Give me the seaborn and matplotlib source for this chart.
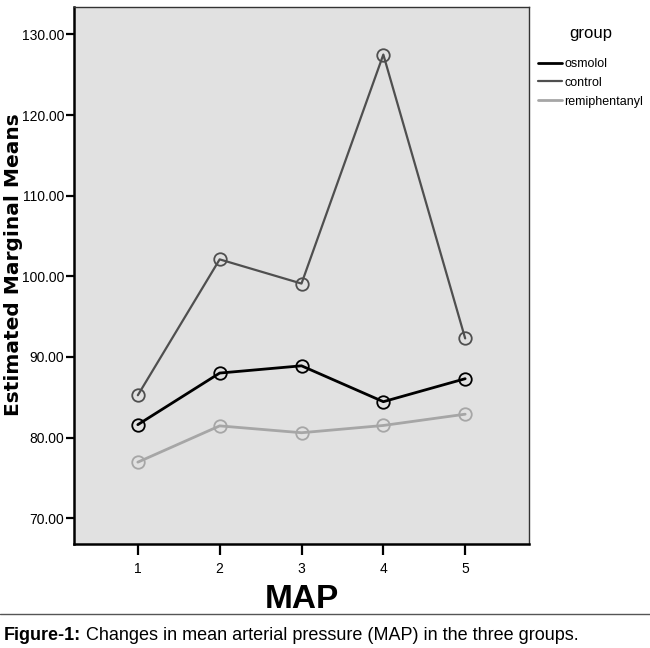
import pandas as pd
import numpy as np
import matplotlib
matplotlib.use("Agg")
import matplotlib.pyplot as plt
from matplotlib.lines import Line2D
import seaborn as sns

# 값은 그림에서 읽은 추정치
map_time = [1, 2, 3, 4, 5]
osmolol = [81.6, 88.0, 88.9, 84.45, 87.3]
control = [85.25, 102.1, 99.1, 127.5, 92.3]
remiphentanyl = [76.95, 81.45, 80.6, 81.5, 82.9]
groups = ["osmolol", "control", "remiphentanyl"]
colors = {"osmolol": "#000000", "control": "#4f4f4f", "remiphentanyl": "#a6a6a6"}
widths = {"osmolol": 2.0, "control": 1.6, "remiphentanyl": 2.0}
yticks = [70, 80, 90, 100, 110, 120, 130]

df = pd.DataFrame({
    "MAP": map_time * 3,
    "value": osmolol + control + remiphentanyl,
    "group": np.repeat(groups, len(map_time)),
})

sns.set_style("ticks")
plt.rcParams["font.family"] = ["Liberation Sans", "DejaVu Sans"]
for k in ["text.color", "axes.labelcolor", "xtick.color", "ytick.color"]:
    plt.rcParams[k] = "black"

fig = plt.figure(figsize=(6.5, 6.48), dpi=100)
ax = fig.add_axes([74 / 650, 1 - 544 / 648, 455 / 650, 537 / 648])
ax.set_facecolor("#e1e1e1")

for g in groups:
    sub = df[df["group"] == g]
    sns.lineplot(data=sub, x="MAP", y="value", ax=ax, color=colors[g],
                 linewidth=widths[g], marker="o", markersize=9,
                 markerfacecolor="none", markeredgecolor=colors[g],
                 markeredgewidth=1.3, legend=False)

ax.set_xlim(0.22, 5.78)
ax.set_ylim(66.8, 133.4)
ax.set_xticks(map_time)
ax.set_yticks(yticks)
ax.set_yticklabels([f"{v:.2f}" for v in yticks])
ax.tick_params(axis="both", labelsize=10, width=1.6, direction="out")
ax.tick_params(axis="y", length=6, pad=1)
ax.tick_params(axis="x", length=8, pad=5)

for s in ["left", "bottom"]:
    ax.spines[s].set_linewidth(1.8)
    ax.spines[s].set_color("black")
for s in ["top", "right"]:
    ax.spines[s].set_visible(True)
    ax.spines[s].set_linewidth(1.0)
    ax.spines[s].set_color("#333333")

ax.set_xlabel("MAP", fontsize=24, fontweight="bold", labelpad=6)
ax.set_ylabel("Estimated Marginal Means", fontsize=14.5, fontweight="bold",
              family="DejaVu Sans")
ax.yaxis.set_label_coords(-51 / 455, 0.52)

handles = [Line2D([0], [0], color=colors[g], lw=widths[g]) for g in groups]
leg = fig.legend(handles, groups, title="group", loc="upper left",
                 bbox_to_anchor=(532 / 650, 1 - 20 / 648), frameon=False,
                 fontsize=9, title_fontsize=12, handlelength=1.9,
                 handletextpad=0.2, labelspacing=0.55, borderpad=0)
leg._legend_box.sep = 12

# 아래 캡션
fig.add_artist(Line2D([0, 1], [1 - 614 / 648, 1 - 614 / 648], color="#555555", lw=1.0))
cap1 = fig.text(4 / 650, 1 - 640 / 648, "Figure-1:", fontsize=13, fontweight="bold")
ax.annotate(" Changes in mean arterial pressure (MAP) in the three groups.",
            xy=(1, 0), xycoords=cap1, va="bottom", ha="left", fontsize=13,
            annotation_clip=False)

plt.savefig("out.png", dpi=100)
